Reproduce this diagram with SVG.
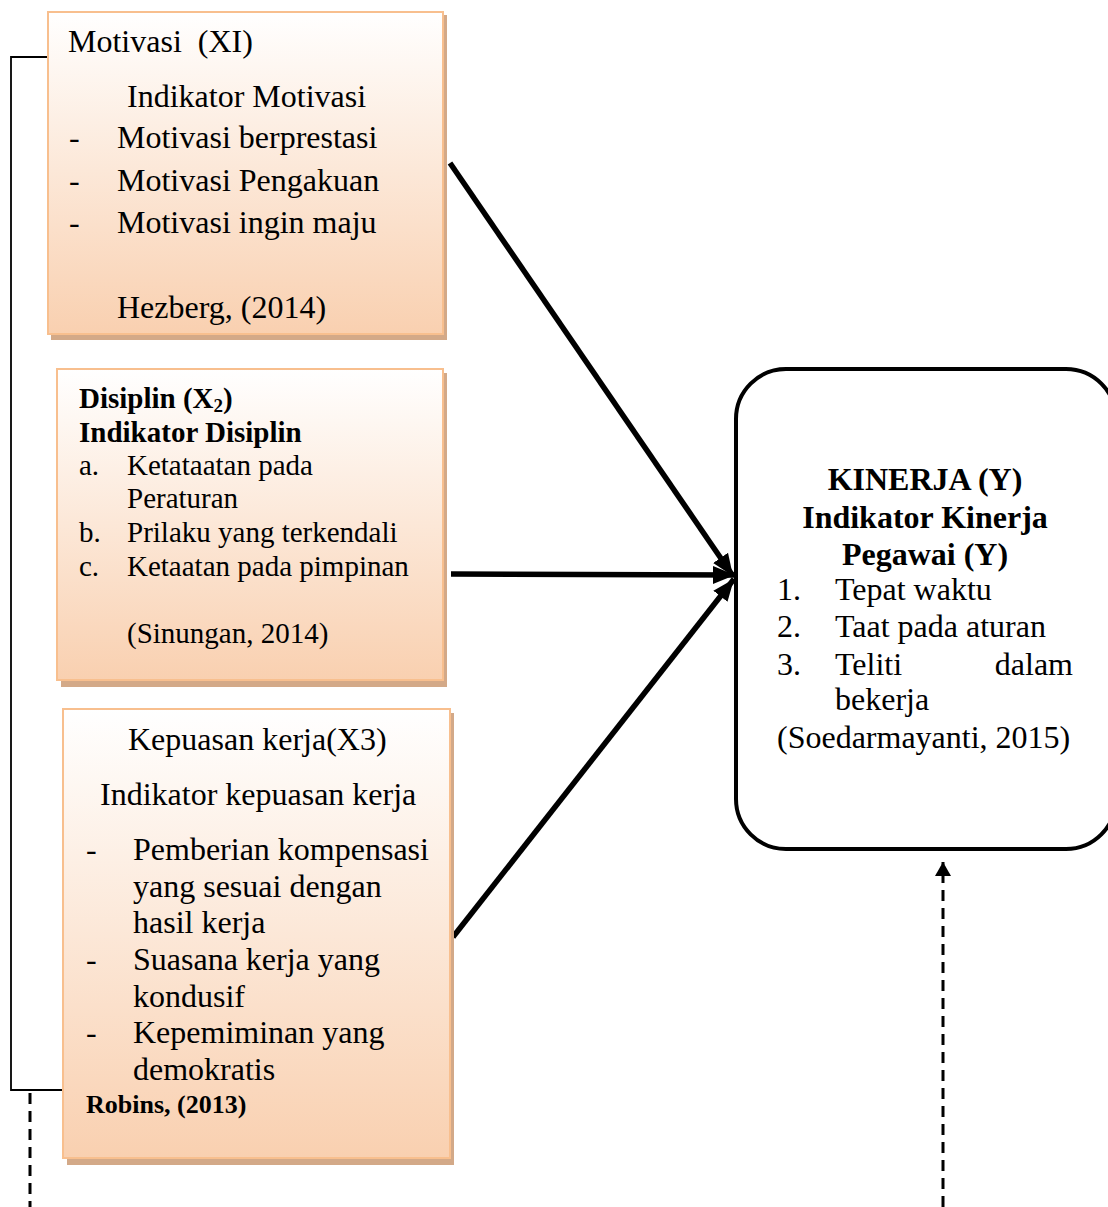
<svg xmlns="http://www.w3.org/2000/svg" width="1108" height="1207" viewBox="0 0 1108 1207">
<defs>
<linearGradient id="peach" x1="0" y1="0" x2="0" y2="1">
<stop offset="0" stop-color="#ffffff"/>
<stop offset="1" stop-color="#f9d0b0"/>
</linearGradient>
<marker id="ah" markerUnits="userSpaceOnUse" markerWidth="24" markerHeight="20" refX="22" refY="10" orient="auto">
<path d="M0,1 L22,10 L0,19 Z" fill="#000"/>
</marker>
<marker id="ahs" markerUnits="userSpaceOnUse" markerWidth="16" markerHeight="16" refX="14" refY="8" orient="auto">
<path d="M0,0 L14,8 L0,16 Z" fill="#000"/>
</marker>
</defs>
<style>
text{font-family:"Liberation Serif","Times New Roman",serif;fill:#000}
.t32{font-size:32px}
.t29{font-size:29px}
.b{font-weight:bold}
.box{fill:url(#peach);stroke:#f8bf8e;stroke-width:2}
.shadow{fill:#d3a988}
.conn{stroke:#000;stroke-width:5.5;fill:none}
.dash{stroke:#000;stroke-width:3;fill:none;stroke-dasharray:11 7}
.thin{stroke:#000;stroke-width:1.8;fill:none}
</style>

<g id="connectors">
<path class="thin" d="M47,57 H11 V1090 H63"/>
<line class="dash" x1="30" y1="1093" x2="30" y2="1207"/>
<line class="conn" x1="450" y1="163" x2="733" y2="576" marker-end="url(#ah)"/>
<line class="conn" x1="451" y1="574" x2="735" y2="575" marker-end="url(#ah)"/>
<line class="conn" x1="453" y1="937" x2="734" y2="579" marker-end="url(#ah)"/>
<line class="dash" x1="943" y1="1207" x2="943" y2="862" marker-end="url(#ahs)"/>
</g>

<g id="motivasi">
<rect class="shadow" x="51" y="15" width="396" height="325"/>
<rect class="box" x="48" y="12" width="395" height="322"/>
<text class="t32" x="68" y="52" xml:space="preserve">Motivasi  (XI)</text>
<text class="t32" x="127" y="107">Indikator Motivasi</text>
<text class="t32" x="69" y="148">-</text><text class="t32" x="117" y="148">Motivasi berprestasi</text>
<text class="t32" x="69" y="191">-</text><text class="t32" x="117" y="191">Motivasi Pengakuan</text>
<text class="t32" x="69" y="233">-</text><text class="t32" x="117" y="233">Motivasi ingin maju</text>
<text class="t32" x="117" y="318">Hezberg, (2014)</text>
</g>

<g id="disiplin">
<rect class="shadow" x="61" y="373" width="386" height="314"/>
<rect class="box" x="57" y="369" width="386" height="311"/>
<text class="t29 b" x="79" y="408">Disiplin (X<tspan font-size="19" dy="4">2</tspan><tspan dy="-4">)</tspan></text>
<text class="t29 b" x="79" y="442">Indikator Disiplin</text>
<text class="t29" x="79" y="475">a.</text><text class="t29" x="127" y="475">Ketataatan pada</text>
<text class="t29" x="127" y="508">Peraturan</text>
<text class="t29" x="79" y="542">b.</text><text class="t29" x="127" y="542">Prilaku yang terkendali</text>
<text class="t29" x="79" y="576">c.</text><text class="t29" x="127" y="576">Ketaatan pada pimpinan</text>
<text class="t29" x="127" y="643">(Sinungan, 2014)</text>
</g>

<g id="kepuasan">
<rect class="shadow" x="67" y="713" width="387" height="452"/>
<rect class="box" x="63" y="709" width="387" height="449"/>
<text class="t32" x="128" y="750">Kepuasan kerja(X3)</text>
<text class="t32" x="100" y="805">Indikator kepuasan kerja</text>
<text class="t32" x="86" y="860">-</text><text class="t32" x="133" y="860">Pemberian kompensasi</text>
<text class="t32" x="133" y="897">yang sesuai dengan</text>
<text class="t32" x="133" y="933">hasil kerja</text>
<text class="t32" x="86" y="970">-</text><text class="t32" x="133" y="970">Suasana kerja yang</text>
<text class="t32" x="133" y="1007">kondusif</text>
<text class="t32" x="86" y="1043">-</text><text class="t32" x="133" y="1043">Kepemiminan yang</text>
<text class="t32" x="133" y="1080">demokratis</text>
<text class="b" font-size="26" x="86" y="1113">Robins, (2013)</text>
</g>

<g id="kinerja">
<rect x="736" y="369" width="380" height="480" rx="50" ry="50" fill="#fff" stroke="#000" stroke-width="4"/>
<text class="t32 b" x="925" y="490" text-anchor="middle">KINERJA (Y)</text>
<text class="t32 b" x="925" y="528" text-anchor="middle">Indikator Kinerja</text>
<text class="t32 b" x="925" y="565" text-anchor="middle">Pegawai (Y)</text>
<text class="t32" x="777" y="600">1.</text><text class="t32" x="835" y="600">Tepat waktu</text>
<text class="t32" x="777" y="637">2.</text><text class="t32" x="835" y="637">Taat pada aturan</text>
<text class="t32" x="777" y="675">3.</text><text class="t32" x="835" y="675">Teliti</text><text class="t32" x="1073" y="675" text-anchor="end">dalam</text>
<text class="t32" x="835" y="710">bekerja</text>
<text class="t32" x="777" y="748">(Soedarmayanti, 2015)</text>
</g>
</svg>
